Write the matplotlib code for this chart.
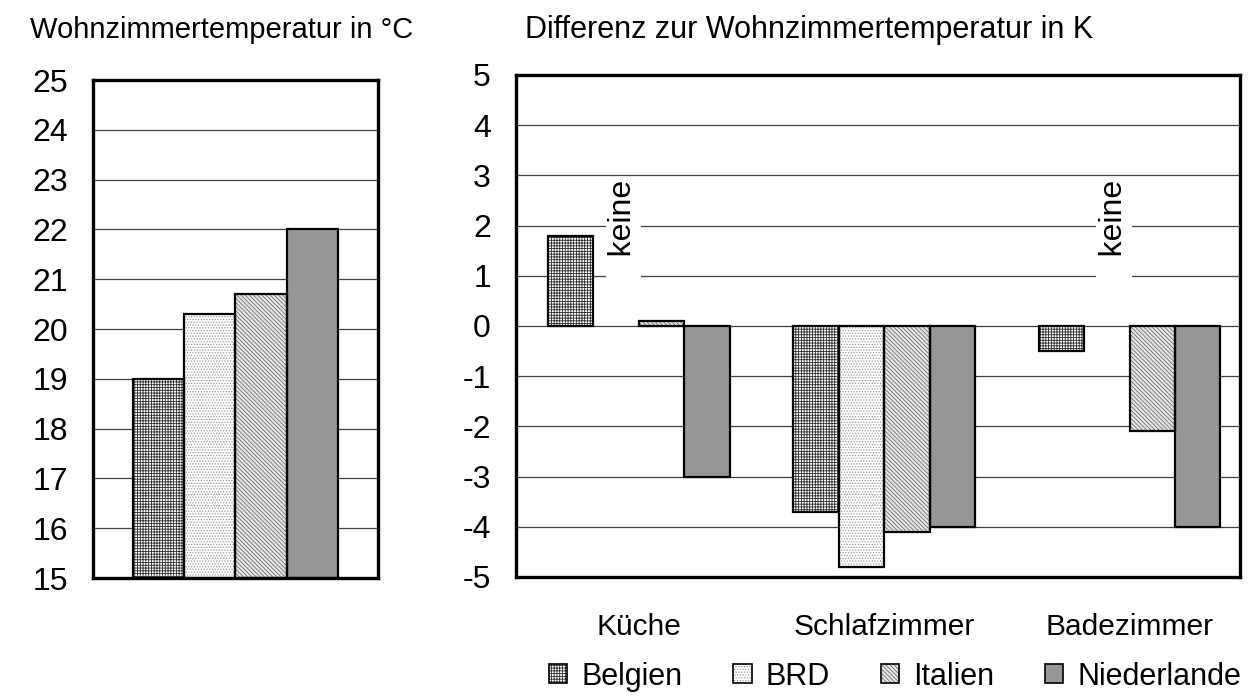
import numpy as np
import matplotlib.pyplot as plt
from matplotlib.patches import Patch

plt.rcParams['font.family'] = ['Liberation Sans', 'DejaVu Sans']
plt.rcParams['axes.unicode_minus'] = False
plt.rcParams['hatch.linewidth'] = 0.6

# Daten
laender = ["Belgien", "BRD", "Italien", "Niederlande"]
wohnzimmer = [19.0, 20.3, 20.7, 22.0]
raeume = ["Küche", "Schlafzimmer", "Badezimmer"]
differenz = {
    "Belgien": [1.8, -3.7, -0.5],
    "BRD": [np.nan, -4.8, np.nan],
    "Italien": [0.1, -4.1, -2.1],
    "Niederlande": [-3.0, -4.0, -4.0],
}
keine_raum = [0, 2]  # BRD: keine Angabe

# Stil je Land: Flaeche, Schraffur, Schraffurfarbe
stil = {
    "Belgien": ("white", "++++++", "#303030"),
    "BRD": ("white", "......", "#9a9a9a"),
    "Italien": ("#e6e6e6", "\\\\\\\\\\\\\\\\", "#707070"),
    "Niederlande": ("#969696", None, "#969696"),
}


def draw_bars(ax, x, h, land, width, bottom=0):
    face, hatch, hcol = stil[land]
    ax.bar(x, h, width, bottom=bottom, color=face, linewidth=0, zorder=2)
    if hatch:
        ax.bar(x, h, width, bottom=bottom, facecolor="none", edgecolor=hcol,
               hatch=hatch, linewidth=0, zorder=3)
    ax.bar(x, h, width, bottom=bottom, fill=False, edgecolor="black",
           linewidth=1.6, zorder=4)


def style_axes(ax):
    for s in ax.spines.values():
        s.set_linewidth(2.4)
    ax.grid(axis="y", color="#404040", linewidth=0.9, zorder=0)
    ax.set_axisbelow(True)
    ax.tick_params(axis="y", length=0, pad=18, labelsize=23)


fig = plt.figure(figsize=(12.57, 6.96), dpi=100)

# Linkes Diagramm
ax1 = fig.add_axes([0.074, 0.1695, 0.2267, 0.7155])
w1 = 0.179
for i, land in enumerate(laender):
    draw_bars(ax1, (i - 1.5) * w1, wohnzimmer[i] - 15, land, w1, bottom=15)
ax1.set_xlim(-0.5, 0.5)
ax1.set_ylim(15, 25)
ax1.set_yticks(range(15, 26))
ax1.set_xticks([])
style_axes(ax1)

# Rechtes Diagramm
ax2 = fig.add_axes([0.4105, 0.171, 0.576, 0.7213])
w2 = 0.185
x = np.arange(len(raeume))
for i, land in enumerate(laender):
    vals = np.array(differenz[land])
    ok = ~np.isnan(vals)
    draw_bars(ax2, x[ok] + (i - 1.5) * w2, vals[ok], land, w2)
ax2.set_xlim(-0.5, 2.45)
ax2.set_ylim(-5, 5)
ax2.set_yticks(range(-5, 6))
ax2.set_xticks(x)
ax2.set_xticklabels(raeume)
ax2.tick_params(axis="x", length=0, pad=26, labelsize=21.5)
style_axes(ax2)

# "keine" fuer fehlende BRD-Werte; fuehrende Leerzeichen verlaengern die Maske nach unten
for r in keine_raum:
    ax2.text(r - 0.5 * w2 + 0.03, 2.92, "   keine", rotation=90, ha="center",
             va="top", fontsize=23, zorder=5,
             bbox=dict(facecolor="white", edgecolor="none", pad=2))

fig.text(0.024, 0.957, "Wohnzimmertemperatur in °C", fontsize=21, va="center")
fig.text(0.418, 0.957, "Differenz zur Wohnzimmertemperatur in K", fontsize=22,
         va="center")

# Legende
handles = []
for land in laender:
    face, hatch, hcol = stil[land]
    base = Patch(facecolor=face, edgecolor=hcol, hatch=hatch, linewidth=0)
    rand = Patch(fill=False, edgecolor="black", linewidth=1.2)
    handles.append((base, rand))
fig.legend(handles, laender, loc="center", bbox_to_anchor=(0.712, 0.028),
           ncol=4, frameon=False, fontsize=22, handlelength=0.6,
           handleheight=0.6, handletextpad=0.45, columnspacing=1.67,
           borderaxespad=0, borderpad=0)

fig.savefig("out.png", dpi=100)
